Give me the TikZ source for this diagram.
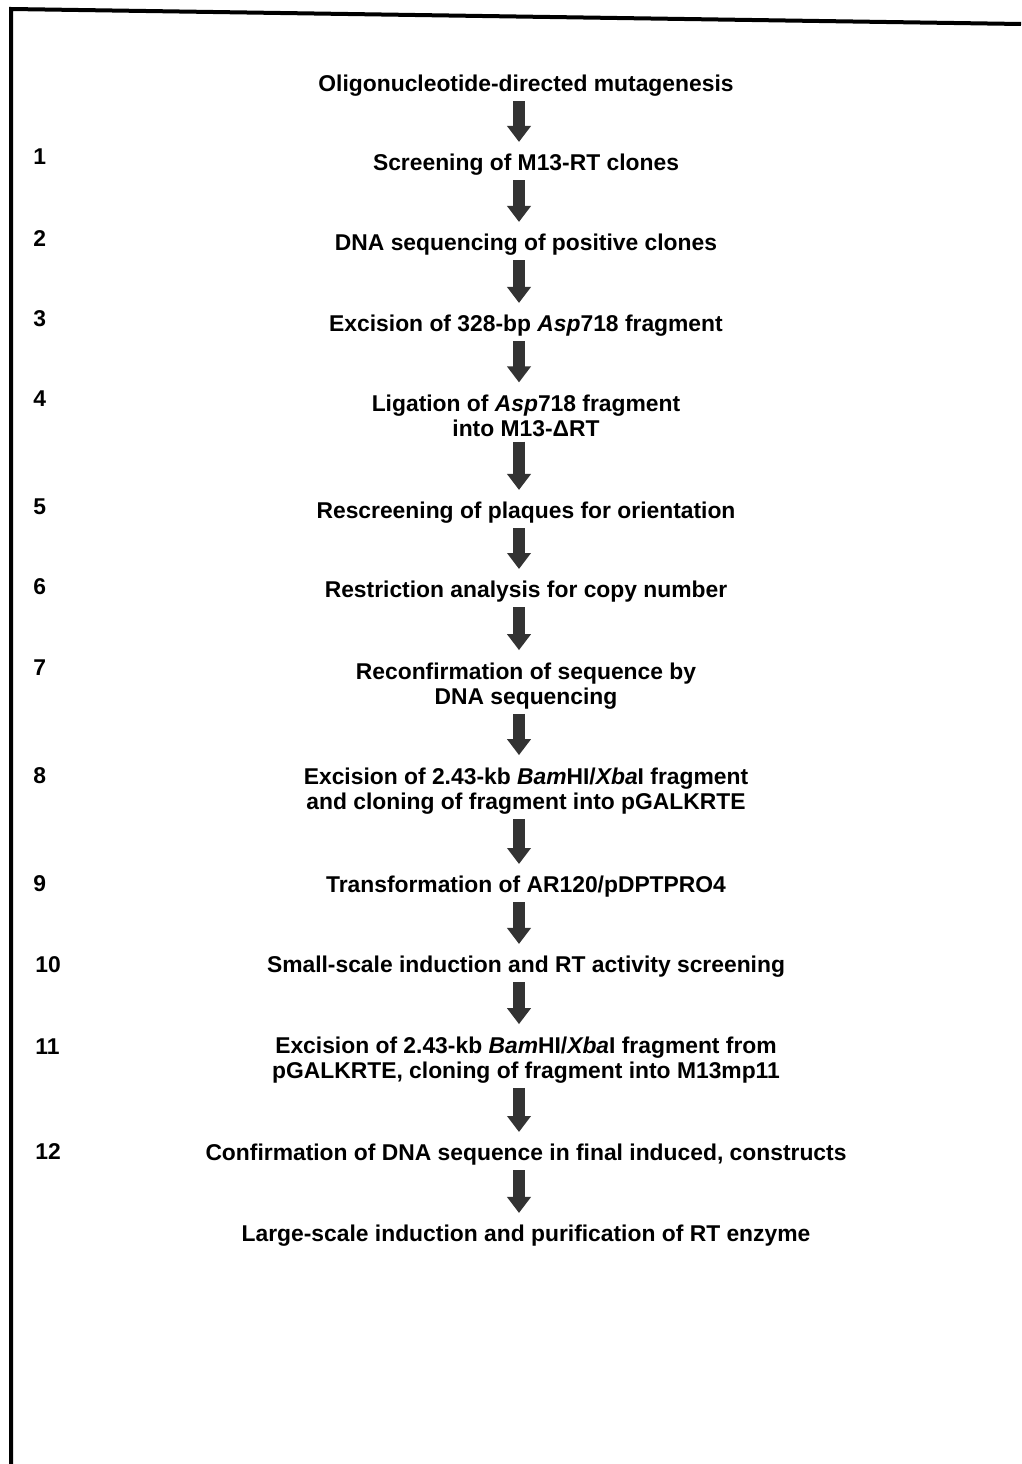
\documentclass[tikz,border=0pt]{standalone}
\usepackage{fontspec}
\setmainfont{Liberation Sans}
\usetikzlibrary{arrows.meta,positioning}

\begin{document}
\begin{tikzpicture}[
    x=0.2mm, y=-0.2mm,
    every node/.style={font=\fontsize{13}{14.6}\selectfont\bfseries},
    stepnode/.style={align=center, inner sep=0pt},
    numnode/.style={anchor=west, inner sep=0pt},
    fatarrow/.style={line width=2.4mm, black!80, -{Triangle[width=4.6mm, length=3.2mm]}, shorten <=0.8mm, shorten >=2.4mm}
]
\useasboundingbox (0,0) rectangle (1021,1464);

% Frame (top and left rules)
\draw[line width=0.8mm] (11,1464) -- (11,9) -- (1021,24);

% Steps
\node[stepnode] (start) at (526,86) {Oligonucleotide-directed mutagenesis};
\node[stepnode] (s1) at (526,165) {Screening of M13-RT clones};
\node[stepnode] (s2) at (526,245) {DNA sequencing of positive clones};
\node[stepnode] (s3) at (526,326) {Excision of 328-bp \textit{Asp}718 fragment};
\node[stepnode] (s4) at (526,416) {Ligation of \textit{Asp}718 fragment\\ into M13-ΔRT};
\node[stepnode] (s5) at (526,513) {Rescreening of plaques for orientation};
\node[stepnode] (s6) at (526,592) {Restriction analysis for copy number};
\node[stepnode] (s7) at (526,686) {Reconfirmation of sequence by\\ DNA sequencing};
\node[stepnode] (s8) at (526,791) {Excision of 2.43-kb \textit{Bam}HI/\textit{Xba}I fragment\\ and cloning of fragment into pGALKRTE};
\node[stepnode] (s9) at (526,887) {Transformation of AR120/pDPTPRO4};
\node[stepnode] (s10) at (526,967) {Small-scale induction and RT activity screening};
\node[stepnode] (s11) at (526,1060) {Excision of 2.43-kb \textit{Bam}HI/\textit{Xba}I fragment from\\ pGALKRTE, cloning of fragment into M13mp11};
\node[stepnode] (s12) at (526,1155) {Confirmation of DNA sequence in final induced, constructs};
\node[stepnode] (final) at (526,1236) {Large-scale induction and purification of RT enzyme};

% Step numbers
\node[numnode] (n1) at (33,157) {1};
\node[numnode] (n2) at (33,239) {2};
\node[numnode] (n3) at (33,319) {3};
\node[numnode] (n4) at (33,399) {4};
\node[numnode] (n5) at (33,507) {5};
\node[numnode] (n6) at (33,587) {6};
\node[numnode] (n7) at (33,668) {7};
\node[numnode] (n8) at (33,776) {8};
\node[numnode] (n9) at (33,884) {9};
\node[numnode] (n10) at (35,965) {10};
\node[numnode] (n11) at (35,1047) {11};
\node[numnode] (n12) at (35,1152) {12};

% Arrows
\draw[fatarrow] ([xshift=-1.4mm]start.south) -- ([xshift=-1.4mm]s1.north);
\draw[fatarrow] ([xshift=-1.4mm]s1.south) -- ([xshift=-1.4mm]s2.north);
\draw[fatarrow] ([xshift=-1.4mm]s2.south) -- ([xshift=-1.4mm]s3.north);
\draw[fatarrow] ([xshift=-1.4mm]s3.south) -- ([xshift=-1.4mm]s4.north);
\draw[fatarrow] ([xshift=-1.4mm]s4.south) -- ([xshift=-1.4mm]s5.north);
\draw[fatarrow] ([xshift=-1.4mm]s5.south) -- ([xshift=-1.4mm]s6.north);
\draw[fatarrow] ([xshift=-1.4mm]s6.south) -- ([xshift=-1.4mm]s7.north);
\draw[fatarrow] ([xshift=-1.4mm]s7.south) -- ([xshift=-1.4mm]s8.north);
\draw[fatarrow] ([xshift=-1.4mm]s8.south) -- ([xshift=-1.4mm]s9.north);
\draw[fatarrow] ([xshift=-1.4mm]s9.south) -- ([xshift=-1.4mm]s10.north);
\draw[fatarrow] ([xshift=-1.4mm]s10.south) -- ([xshift=-1.4mm]s11.north);
\draw[fatarrow] ([xshift=-1.4mm]s11.south) -- ([xshift=-1.4mm]s12.north);
\draw[fatarrow] ([xshift=-1.4mm]s12.south) -- ([xshift=-1.4mm]final.north);

\end{tikzpicture}
\end{document}
